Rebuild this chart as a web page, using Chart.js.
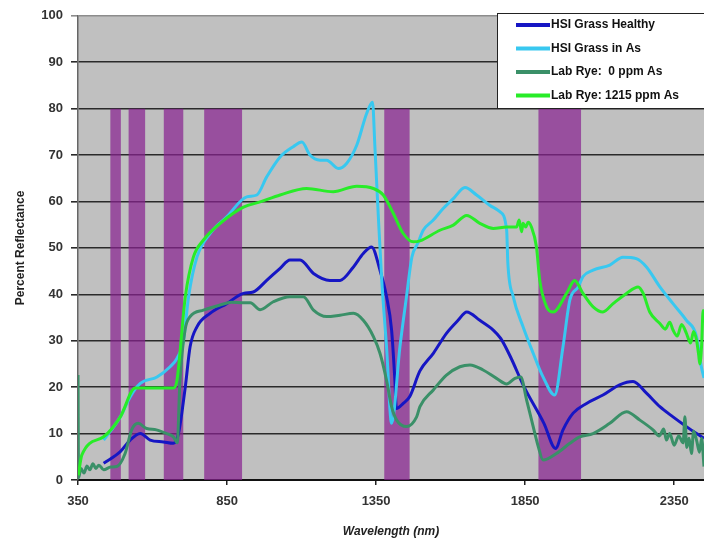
<!DOCTYPE html>
<html>
<head>
<meta charset="utf-8">
<title>Percent Reflectance</title>
<script src="https://cdn.jsdelivr.net/npm/chart.js@4/dist/chart.umd.min.js"></script>
<style>
  body { margin: 0; background: #fff; }
  canvas { display: block; }
</style>
</head>
<body>
<canvas id="myLineChart" width="704" height="539"></canvas>
<script>
"use strict";

// x axis ticks (nm)
const wavelengthTicks = [350, 850, 1350, 1850, 2350];

// HSI Grass Healthy
const healthyNm = [436, 492, 525, 559, 592, 637, 670, 687, 710, 726, 749, 793, 849, 905, 938, 983,
    1028, 1061, 1095, 1140, 1195, 1229, 1274, 1307, 1335, 1363, 1385, 1402, 1413, 1418, 1441, 1463,
    1497, 1542, 1586, 1625, 1654, 1698, 1743, 1768, 1801, 1846, 1913, 1952, 1977, 2011, 2056, 2111,
    2167, 2212, 2257, 2302, 2346, 2391, 2425, 2450];
const healthyPct = [3.6, 6.1, 8.6, 10.0, 8.6, 8.2, 7.9, 10.0, 20.1, 28.7, 33.0, 35.9, 38.0, 40.2, 40.5, 43.0,
    45.6, 47.4, 47.4, 44.5, 43.0, 43.0, 45.9, 48.8, 50.2, 45.2, 39.5, 32.3, 21.5, 15.4, 16.5, 18.0,
    23.5, 27.3, 31.6, 34.4, 36.2, 34.4, 32.3, 30.5, 26.5, 20.1, 12.2, 6.8, 10.8, 14.4, 16.5, 18.3,
    20.5, 21.2, 18.7, 15.8, 13.6, 11.5, 10.0, 9.0];

// HSI Grass in As
const grassAsNm = [436, 492, 525, 559, 615, 659, 682, 704, 721, 749, 793, 849, 916, 950, 983, 1028,
    1072, 1101, 1128, 1162, 1184, 1223, 1251, 1285, 1318, 1338, 1346, 1357, 1369, 1385, 1402, 1430,
    1452, 1470, 1490, 1508, 1542, 1575, 1609, 1648, 1687, 1731, 1765, 1788, 1792, 1810, 1843, 1877,
    1910, 1949, 1977, 2000, 2028, 2044, 2078, 2134, 2178, 2223, 2257, 2302, 2346, 2391, 2425, 2441, 2450];
const grassAsPct = [8.6, 13.6, 17.9, 20.8, 22.2, 24.4, 26.2, 30.1, 39.5, 48.0, 53.1, 56.7, 61.0, 61.4, 65.3, 69.6,
    71.8, 72.8, 70.0, 68.9, 68.9, 67.1, 68.2, 72.1, 78.9, 81.4, 71.8, 57.4, 43.0, 28.7, 12.2, 28.7,
    39.5, 48.0, 51.0, 53.8, 56.0, 58.5, 60.6, 63.0, 61.4, 59.2, 57.8, 53.8, 46.7, 39.5, 33.0, 27.3,
    22.2, 18.3, 28.7, 38.8, 41.6, 43.8, 45.2, 46.3, 48.0, 47.7, 45.9, 41.6, 38.0, 34.4, 30.9, 24.4, 22.0];

// Lab Rye: 0 ppm As
const rye0Nm = [350, 352, 360, 370, 380, 390, 400, 410, 420, 436, 460, 480, 508, 530, 552, 580,
    613, 647, 670, 683, 692, 709, 726, 771, 827, 865, 905, 928, 961, 1005, 1061, 1106,
    1140, 1184, 1229, 1274, 1307, 1341, 1363, 1385, 1402, 1419, 1452, 1486, 1497, 1542, 1586, 1631,
    1665, 1709, 1754, 1788, 1816, 1835, 1855, 1877, 1894, 1910, 1955, 2000, 2033, 2078, 2134, 2190,
    2235, 2279, 2300, 2315, 2324, 2335, 2350, 2365, 2380, 2386, 2392, 2400, 2408, 2415, 2425, 2435, 2442, 2450];
const rye0Pct = [22.6, 0.5, 2.5, 1.5, 3.0, 2.2, 3.5, 2.5, 3.2, 2.2, 2.8, 2.9, 5.7, 10.8, 12.2, 11.1,
    10.8, 10.0, 9.3, 8.0, 21.5, 32.3, 35.2, 36.6, 37.7, 38.3, 38.2, 38.2, 36.7, 38.4, 39.5, 39.5,
    36.6, 35.2, 35.5, 35.9, 34.4, 30.9, 27.3, 21.5, 15.8, 12.9, 11.5, 13.6, 15.8, 19.4, 22.6, 24.4,
    24.8, 23.7, 21.9, 20.7, 21.9, 22.2, 17.2, 11.5, 7.2, 4.3, 5.7, 7.9, 9.3, 10.0, 12.2, 14.7,
    12.9, 10.8, 9.5, 11.0, 8.6, 10.0, 7.5, 9.5, 8.0, 13.6, 7.0, 9.0, 5.7, 10.5, 8.6, 6.0, 9.0, 2.9];

// Lab Rye: 1215 ppm As
const rye1215Nm = [351, 363, 436, 492, 542, 592, 670, 682, 710, 737, 771, 827, 905, 961, 1028, 1117,
    1206, 1285, 1341, 1374, 1408, 1441, 1475, 1497, 1564, 1609, 1654, 1698, 1743, 1788, 1821, 1830,
    1838, 1843, 1852, 1860, 1871, 1888, 1899, 1922, 1944, 1989, 2016, 2044, 2078, 2111, 2145, 2190,
    2229, 2246, 2268, 2302, 2320, 2335, 2346, 2360, 2375, 2391, 2405, 2415, 2425, 2432, 2436, 2442, 2447, 2450];
const rye1215Pct = [1.0, 5.4, 9.3, 13.6, 19.8, 19.8, 19.8, 21.5, 39.5, 48.0, 51.7, 55.3, 58.8, 59.9, 61.4, 62.8,
    62.1, 63.3, 62.8, 61.4, 57.4, 53.1, 51.3, 51.5, 53.8, 54.9, 57.0, 55.3, 54.2, 54.5, 54.5, 56.0,
    53.5, 55.3, 54.5, 55.5, 54.5, 50.2, 43.0, 37.3, 36.2, 40.2, 43.0, 40.2, 37.3, 36.2, 38.0, 40.2,
    41.6, 40.2, 36.2, 33.7, 32.5, 34.0, 32.3, 31.0, 33.5, 31.6, 29.5, 32.0, 30.1, 27.0, 25.0, 29.0, 36.5, 34.0];

// absorption bands (nm) drawn up to bandTop
const bandStartNm = [458, 519, 637, 773, 1377, 1894];
const bandEndNm = [494, 576, 704, 901, 1463, 2038];
const bandTop = 80;

const seriesLabels = ['HSI Grass Healthy', 'HSI Grass in As', 'Lab Rye:  0 ppm As', 'Lab Rye: 1215 ppm As'];
const seriesColors = ['#1616c4', '#38c8f0', '#3a9068', '#28ec28'];

const FONT = "'Liberation Sans', Arial, sans-serif";

renderChart();

/**
 * zips two arrays into {x, y} points
 */
function toPoints(xs, ys) {
    return xs.map((x, i) => ({ x: x, y: ys[i] }));
}

function renderChart() {
    const ctx = document.getElementById('myLineChart');
    const seriesData = [
        toPoints(healthyNm, healthyPct),
        toPoints(grassAsNm, grassAsPct),
        toPoints(rye0Nm, rye0Pct),
        toPoints(rye1215Nm, rye1215Pct)
    ];

    const datasets = [];
    seriesData.forEach((pts, i) => {
        datasets.push({
            label: seriesLabels[i],
            data: pts,
            borderColor: seriesColors[i],
            backgroundColor: seriesColors[i],
            borderWidth: 3,
            pointRadius: 0,
            cubicInterpolationMode: 'monotone',
            fill: false,
            order: 4 - i,
            isSeries: true
        });
    });
    bandStartNm.forEach((start, i) => {
        datasets.push({
            label: 'band' + i,
            data: [{ x: start, y: bandTop }, { x: bandEndNm[i], y: bandTop }],
            borderWidth: 0,
            borderColor: 'rgba(0,0,0,0)',
            backgroundColor: 'rgba(136,34,144,0.72)',
            pointRadius: 0,
            fill: 'origin',
            order: 20
        });
    });

    // grey plotting area
    const plotBackground = {
        id: 'plotBackground',
        beforeDraw(chart) {
            const a = chart.chartArea;
            chart.ctx.save();
            chart.ctx.fillStyle = '#c0c0c0';
            chart.ctx.fillRect(a.left, a.top, a.right - a.left, a.bottom - a.top);
            chart.ctx.restore();
        }
    };

    // boxed legend in the top right corner
    const boxLegend = {
        id: 'boxLegend',
        afterDraw(chart) {
            const c = chart.ctx;
            const items = chart.data.datasets.filter(d => d.isSeries);
            c.save();
            c.fillStyle = '#fff';
            c.fillRect(497.5, 13.5, 220, 95);
            c.strokeStyle = '#222';
            c.lineWidth = 1;
            c.strokeRect(497.5, 13.5, 220, 95);
            c.font = 'bold 12px ' + FONT;
            c.textBaseline = 'middle';
            items.forEach((d, i) => {
                const y = 25 + i * 23.5;
                c.strokeStyle = d.borderColor;
                c.lineWidth = 4;
                c.beginPath();
                c.moveTo(516, y);
                c.lineTo(550, y);
                c.stroke();
                c.fillStyle = '#111';
                c.fillText(d.label, 551, y);
            });
            c.restore();
        }
    };

    new Chart(ctx, {
        type: 'line',
        data: { datasets: datasets },
        options: {
            responsive: false,
            animation: false,
            devicePixelRatio: 1,
            layout: { padding: { top: 15, right: 0, left: 0, bottom: 0 } },
            plugins: {
                legend: { display: false },
                tooltip: { enabled: false }
            },
            scales: {
                x: {
                    type: 'linear',
                    min: 350,
                    max: 2450,
                    afterBuildTicks: (scale) => {
                        scale.ticks = wavelengthTicks.map(v => ({ value: v }));
                    },
                    afterFit: (scale) => { scale.height = 59; },
                    grid: {
                        drawOnChartArea: false,
                        drawTicks: true,
                        tickLength: 5,
                        color: '#222',
                        lineWidth: 1.5
                    },
                    border: { color: '#111', width: 2 },
                    ticks: {
                        autoSkip: false,
                        maxRotation: 0,
                        padding: 9,
                        color: '#333',
                        callback: (v) => String(v),
                        font: { family: FONT, size: 13, weight: 'bold' }
                    },
                    title: {
                        display: true,
                        text: 'Wavelength (nm)',
                        color: '#222',
                        padding: { top: 0, bottom: 0 },
                        font: { family: FONT, size: 12, weight: 'bold', style: 'italic' }
                    }
                },
                y: {
                    min: 0,
                    max: 100,
                    afterFit: (scale) => { scale.width = 78; },
                    grid: {
                        drawTicks: true,
                        tickLength: 7,
                        color: (c) => (c.tick && c.tick.value === 100) ? '#8c8c8c' : '#2a2a2a',
                        lineWidth: 1.6
                    },
                    border: { color: '#666', width: 1.5 },
                    ticks: {
                        stepSize: 10,
                        padding: 8,
                        color: '#333',
                        font: { family: FONT, size: 13, weight: 'bold' }
                    },
                    title: {
                        display: true,
                        text: 'Percent Reflectance',
                        color: '#222',
                        padding: { top: 13, bottom: 0 },
                        font: { family: FONT, size: 12, weight: 'bold' }
                    }
                }
            }
        },
        plugins: [plotBackground, boxLegend]
    });
}
</script>
</body>
</html>
